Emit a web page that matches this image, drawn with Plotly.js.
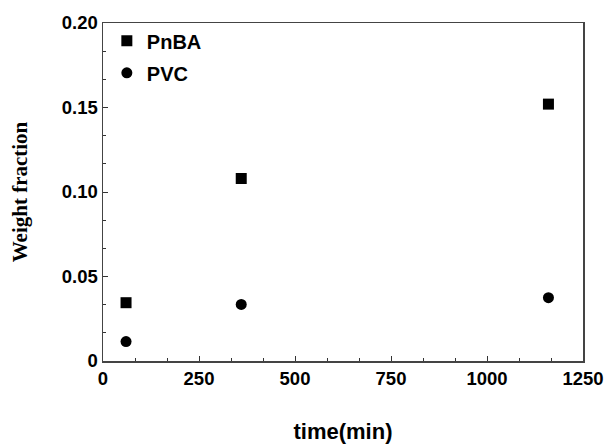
<!DOCTYPE html>
<html>
<head>
<meta charset="utf-8">
<script src="https://cdn.plot.ly/plotly-3.0.1.min.js"></script>
<style>html,body{margin:0;padding:0;background:#fff;}#chart{width:611px;height:444px;}</style>
</head>
<body>
<div id="chart"></div>
<script>
const timeMin = [60, 360, 1160];
const pnbaFraction = [0.0345, 0.108, 0.152];
const pvcFraction = [0.0115, 0.0335, 0.0375];
const xTickVals = [0, 250, 500, 750, 1000, 1250];
const yTickVals = [0, 0.05, 0.10, 0.15, 0.20];
const yTickText = ['0', '0.05', '0.10', '0.15', '0.20'];

const tickFont = {family: 'Liberation Sans, Arial, sans-serif', size: 18.5, color: '#000', weight: 'bold'};
const legendFont = {family: 'Liberation Sans, Arial, sans-serif', size: 20, color: '#000', weight: 'bold'};

const traces = [
  {x: timeMin, y: pnbaFraction, name: 'PnBA', mode: 'markers', type: 'scatter', legendgroup: 'a',
   marker: {symbol: 'square', size: 11, color: '#000'}},
  {x: timeMin, y: pvcFraction, name: 'PVC', mode: 'markers', type: 'scatter', legendgroup: 'b',
   marker: {symbol: 'circle', size: 11, color: '#000'}}
];

const layout = {
  width: 611, height: 444,
  margin: {l: 103, r: 28, t: 23, b: 83},
  paper_bgcolor: '#fff', plot_bgcolor: '#fff',
  showlegend: true,
  legend: {x: 0.008, y: 1.005, xanchor: 'left', yanchor: 'top', bgcolor: 'rgba(0,0,0,0)',
    font: legendFont, tracegroupgap: 3, traceorder: 'grouped', itemwidth: 30},
  xaxis: {range: [0, 1250], tickvals: xTickVals, ticks: 'inside', ticklen: 5, tickwidth: 1,
    tickcolor: '#333', showline: true, linecolor: '#444', linewidth: 1.5, mirror: true,
    showgrid: false, zeroline: false, tickfont: tickFont,
    minor: {dtick: 250/3, ticks: 'inside', ticklen: 3, tickcolor: '#333', showgrid: false},
    title: {text: 'time(min)', font: {family: 'Liberation Sans, Arial, sans-serif', size: 22, color: '#000', weight: 'bold'}, standoff: 36}},
  yaxis: {range: [0, 0.20], tickvals: yTickVals, ticktext: yTickText, ticks: 'inside', ticklen: 5,
    tickwidth: 1, tickcolor: '#333', showline: true, linecolor: '#444', linewidth: 1.5, mirror: true,
    showgrid: false, zeroline: false, tickfont: tickFont,
    minor: {dtick: 0.05/3, ticks: 'inside', ticklen: 3, tickcolor: '#333', showgrid: false},
    title: {text: 'Weight fraction', font: {family: 'Liberation Serif, Times New Roman, serif', size: 21, color: '#000', weight: 'bold'}, standoff: 28}}
};

Plotly.newPlot('chart', traces, layout, {displayModeBar: false, staticPlot: true});
</script>
</body>
</html>
